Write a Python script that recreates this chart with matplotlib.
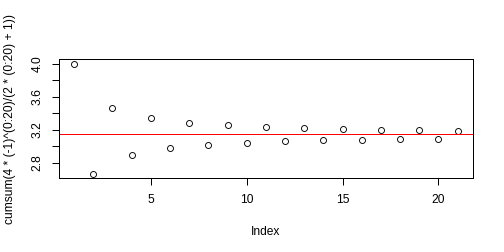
import matplotlib
matplotlib.use('Agg')
import matplotlib.pyplot as plt

# partial sums
index = list(range(1, 22))
values = [4.0, 2.6667, 3.4667, 2.8952, 3.3397, 2.9760, 3.2837, 3.0171,
          3.2524, 3.0418, 3.2323, 3.0584, 3.2184, 3.0703, 3.2082, 3.0792,
          3.2004, 3.0861, 3.1942, 3.0916, 3.1892]
ref_value = 3.14159
y_ticks = [2.8, 3.0, 3.2, 3.4, 3.6, 3.8, 4.0]
y_labels = ['2.8', '', '3.2', '', '3.6', '', '4.0']
x_ticks = [5, 10, 15, 20]

plt.rcParams['font.family'] = ['Liberation Sans', 'DejaVu Sans']

fig = plt.figure(figsize=(7, 3.5), dpi=72)
ax = fig.add_axes([58.8 / 504, 74 / 252, (473 - 58.8) / 504, (178 - 59.3) / 252])

ax.plot(index, values, linestyle='none', marker='o', markersize=6,
        markerfacecolor='none', markeredgecolor='black', markeredgewidth=0.9)
ax.axhline(ref_value, color='red', linewidth=1)

pad_y = (max(values) - min(values)) * 0.04
ax.set_ylim(min(values) - pad_y, max(values) + pad_y)
ax.set_xlim(1 - 0.8, 21 + 0.8)

ax.set_xticks(x_ticks)
ax.set_xticklabels([str(t) for t in x_ticks])
ax.set_yticks(y_ticks)
ax.set_yticklabels(y_labels, rotation=90, va='center')
ax.tick_params(direction='out', length=7, width=1, labelsize=12)
ax.tick_params(axis='x', pad=9)
ax.tick_params(axis='y', pad=8)

for s in ax.spines.values():
    s.set_linewidth(1)

ax.set_xlabel('Index', fontsize=12, labelpad=20)
ax.set_ylabel('cumsum(4 * (-1)^(0:20)/(2 * (0:20) + 1))', fontsize=12, labelpad=16)

fig.savefig('out.png', dpi=72)
